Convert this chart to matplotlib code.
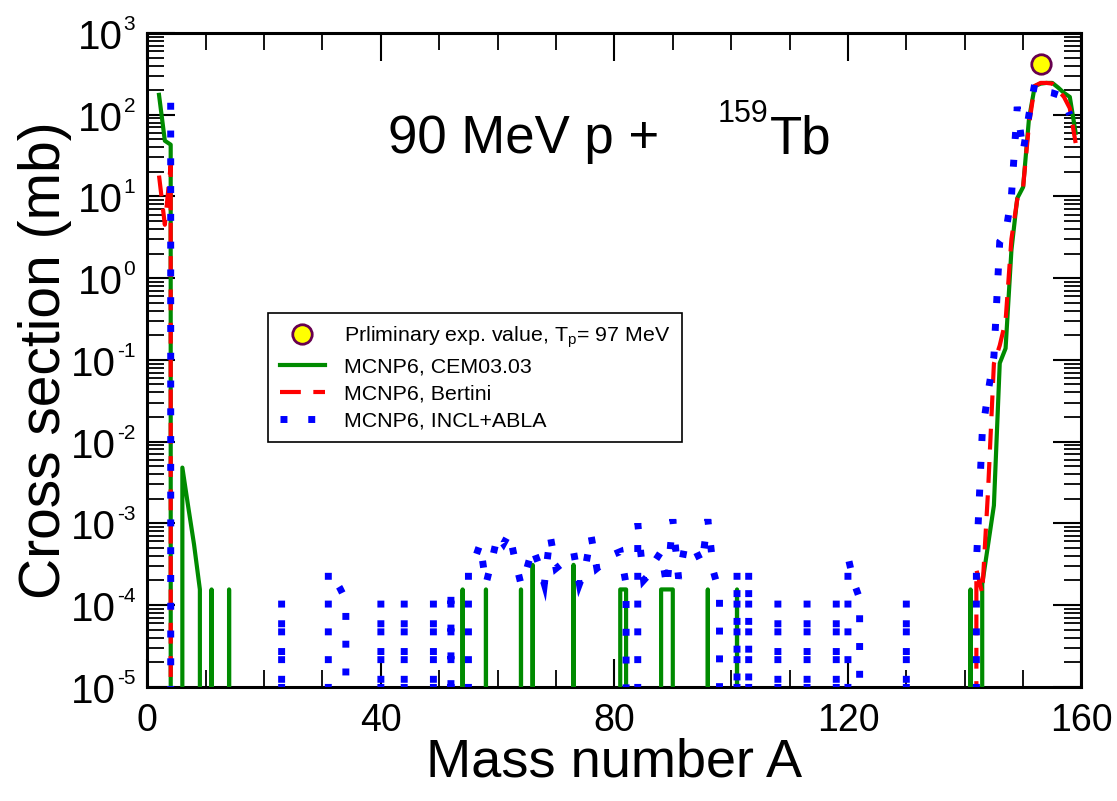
import matplotlib
matplotlib.use('Agg')
import matplotlib.pyplot as plt
from matplotlib.ticker import MultipleLocator, LogLocator, NullFormatter
from matplotlib.transforms import offset_copy
import numpy as np

plt.rcParams['font.family'] = ['Liberation Sans', 'DejaVu Sans']
plt.rcParams['mathtext.fontset'] = 'custom'
plt.rcParams['mathtext.rm'] = 'Liberation Sans'
plt.rcParams['mathtext.it'] = 'Liberation Sans'
plt.rcParams['mathtext.default'] = 'regular'
plt.rcParams['axes.unicode_minus'] = False

# Mass numbers with a non-zero yield and their cross sections (mb)
# every other mass number in between has zero yield
A_cem = [2, 3, 4, 6, 7, 8, 9, 11, 14, 54, 58, 64, 66, 73, 81, 82, 88, 89, 90, 96, 101, 141,
         143, 144, 145, 146, 147, 148, 149, 150, 151, 152, 153, 154, 155, 156, 157, 158, 159]
sig_cem = [175, 48, 43, 4.8e-3, 1.6e-3, 5.5e-4, 1.55e-4, 1.55e-4, 1.55e-4,
           1.55e-4, 1.55e-4, 1.55e-4, 3.1e-4, 3.1e-4,
           1.55e-4, 1.55e-4, 1.55e-4, 1.55e-4, 1.55e-4, 1.55e-4, 1.55e-4, 1.55e-4,
           1.8e-4, 5.5e-4, 1.65e-3, 9.1e-2, 0.138, 2.2, 9.5, 13, 88, 224, 240, 245, 245, 215, 185, 165, 60]

A_ber = [2, 3, 4, 142, 143, 144, 145, 146, 147, 148, 149, 150, 151, 152, 153, 154, 155, 156, 157, 158, 159]
sig_ber = [18, 4.5, 24, 2.7e-4, 1.4e-4, 2.5e-3, 0.09, 0.15, 0.3, 3.0, 9.2, 13, 75, 225, 245, 245, 240,
           200, 165, 120, 45]

A_incl = [4, 23, 31, 32, 33, 34, 40, 44, 49, 52,
          55, 56, 57, 58, 59, 60, 61, 62, 63, 64, 65, 66, 67, 68, 69, 70, 71, 72, 73, 74, 75, 76, 77,
          78, 79, 80, 81, 82,
          84, 85, 86, 87, 88, 89, 90, 91, 92, 93, 94, 95, 96, 97, 98,
          101, 103, 108, 113, 118, 120, 121, 122, 130,
          142, 143, 144, 145, 146, 147, 148, 149, 150, 151, 152, 153, 154, 155, 156, 157, 158]
sig_incl = [140, 1.15e-4, 2.6e-4, 2.1e-4, 1.6e-4, 1.15e-4, 1.15e-4, 1.15e-4, 1.15e-4, 1.6e-4,
            2.6e-4, 3.5e-4, 5.6e-4, 1.8e-4, 3.5e-4, 7.1e-4, 5.6e-4, 7.6e-4, 3.5e-4, 1.8e-4, 2.8e-4,
            5.0e-4, 3.2e-4, 1.8e-4, 7.1e-4, 2.8e-4, 3.2e-4, 3.8e-4, 4.5e-4, 1.8e-4, 2.8e-4, 7.1e-4,
            2.8e-4, 3.2e-4, 3.5e-4, 4.2e-4, 4.5e-4, 1.8e-4,
            1.0e-3, 2.0e-4, 2.4e-4, 3.5e-4, 4.5e-4, 1.65e-4, 1.12e-3, 2.1e-4, 5.0e-4, 5.6e-4, 4.5e-4,
            3.2e-4, 1.12e-3, 2.5e-4, 1.4e-4,
            2.6e-4, 2.6e-4, 1.15e-4, 1.15e-4, 1.15e-4, 3.9e-4, 1.9e-4, 1.2e-4, 1.15e-4,
            3.2e-4, 1.26e-2, 4.0e-2, 0.11, 2.8, 3.5, 10, 125, 35, 100, 240, 200, 190, 185, 175, 150, 100]

# Preliminary experimental point
A_exp = [153]
sig_exp = [420]

# decades labelled on the y axis
y_decades = [-5, -4, -3, -2, -1, 0, 1, 2, 3]


# Put the zero-yield mass numbers back in between the listed ones
def withZeros(A, sig):
	full = np.arange(A[0], A[-1] + 1)
	vals = np.zeros(len(full))
	for a, s in zip(A, sig):
		vals[a - A[0]] = s
	return full, vals


fig = plt.figure(figsize=(11.17, 8.01), dpi=100)
ax = fig.add_axes([0.1319, 0.1427, 0.8363, 0.8161])
ax.set_yscale('log', nonpositive='clip')

x, y = withZeros(A_cem, sig_cem)
ax.plot(x, y, color='#008b00', lw=3, label='MCNP6, CEM03.03', zorder=3)
x, y = withZeros(A_ber, sig_ber)
ax.plot(x, y, color='#ff0000', lw=3, dashes=(5, 3), label='MCNP6, Bertini', zorder=4)
x, y = withZeros(A_incl, sig_incl)
ax.plot(x, y, color='#0000ff', lw=5, dashes=(1, 3), dash_joinstyle='miter',
        label='MCNP6, INCL+ABLA', zorder=5)
ax.plot(A_exp, sig_exp, ls='none', marker='o', ms=14, mfc='#ffff00', mec='#67004f', mew=2,
        label='Prliminary exp. value, T$_{p}$= 97 MeV', zorder=6)

ax.set_xlim(0, 160)
ax.set_ylim(1e-5, 1e3)

ax.xaxis.set_major_locator(MultipleLocator(40))
ax.xaxis.set_minor_locator(MultipleLocator(10))
ax.yaxis.set_major_locator(LogLocator(base=10, numticks=20))
ax.yaxis.set_minor_locator(LogLocator(base=10, subs=np.arange(2, 10), numticks=20))
ax.yaxis.set_minor_formatter(NullFormatter())
ax.yaxis.set_major_formatter(NullFormatter())

ax.tick_params(which='both', direction='in', top=True, right=True)
ax.tick_params(which='major', length=20, width=1.5)
ax.tick_params(which='minor', length=12, width=1.3)
ax.tick_params(axis='x', which='major', labelsize=27, pad=12)
for s in ax.spines.values():
	s.set_linewidth(2.2)

# y tick labels: "10" with a small exponent, right aligned next to the axis
fig.canvas.draw()
rend = fig.canvas.get_renderer()
ytrans = ax.get_yaxis_transform()
for e in y_decades:
	ex = ax.text(0, 10.0 ** e, str(e), fontsize=15, ha='right', va='baseline',
	             transform=offset_copy(ytrans, fig=fig, x=-12, y=3, units='dots'))
	w = ex.get_window_extent(rend).width
	ax.text(0, 10.0 ** e, '10', fontsize=29, ha='right', va='center',
	        transform=offset_copy(ytrans, fig=fig, x=-13 - w, y=-5, units='dots'))

ax.set_xlabel('Mass number A', fontsize=39)
ax.set_ylabel('Cross section (mb)', fontsize=41)
ax.xaxis.set_label_coords(0.5, -0.077)
ax.yaxis.set_label_coords(-0.081, 0.5)

# Title with superscript mass number
fig.text(388 / 1117, 1 - 153 / 801, '90 MeV p +', fontsize=38, ha='left', va='baseline')
fig.text(718 / 1117, 1 - 122 / 801, '159', fontsize=22, ha='left', va='baseline')
fig.text(770 / 1117, 1 - 153 / 801, 'Tb', fontsize=38, ha='left', va='baseline')

h, l = ax.get_legend_handles_labels()
order = [3, 0, 1, 2]
leg = ax.legend([h[i] for i in order], [l[i] for i in order], loc='upper left',
                bbox_to_anchor=(268 / 1117, 1 - 313 / 801), bbox_transform=fig.transFigure,
                borderaxespad=0, fancybox=False, edgecolor='black', framealpha=1, fontsize=15.4,
                handlelength=2.1, handletextpad=0.9, borderpad=0.55, labelspacing=0.36)
leg.get_frame().set_linewidth(1.2)

fig.savefig('out.png', dpi=100)
